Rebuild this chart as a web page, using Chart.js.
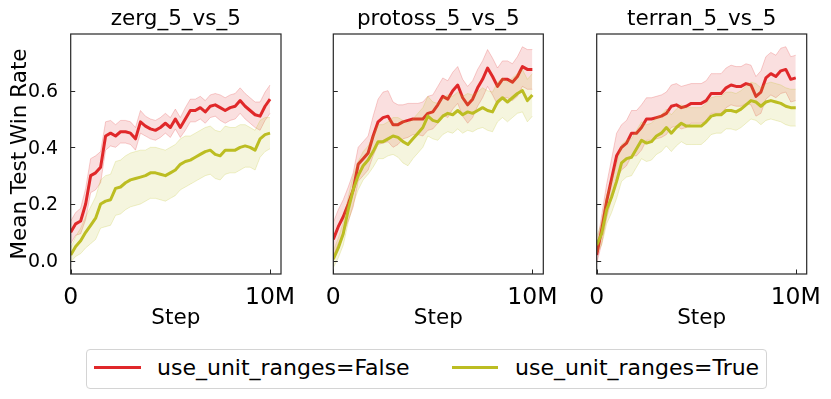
<!DOCTYPE html>
<html>
<head>
<meta charset="utf-8">
<script src="https://cdn.jsdelivr.net/npm/chart.js@4.4.0/dist/chart.umd.min.js"></script>
<style>
body{margin:0;background:#fff;font-family:'DejaVu Sans',sans-serif}
#wrap{position:relative;width:831px;height:399px;overflow:hidden;background:#fff}
#wrap canvas{position:absolute;left:0;top:0}
#legend{position:absolute;left:86px;top:349px;width:679px;height:38px;border:1px solid #d4d4d4;border-radius:4px}
.sw{position:absolute;top:16px;height:3px}
.txt{position:absolute;top:-1px;height:38px;line-height:38px;font-size:22px;color:#000;white-space:nowrap}
</style>
</head>
<body>
<div id="wrap">
  <canvas id="c1" width="831" height="340"></canvas>
  <canvas id="c2" width="831" height="340"></canvas>
  <canvas id="c3" width="831" height="340"></canvas>
  <div id="legend">
    <div class="sw" style="left:7px;width:47px;background:#e0282a"></div>
    <div class="txt" style="left:70px">use_unit_ranges=False</div>
    <div class="sw" style="left:365px;width:46px;background:#bcbd22"></div>
    <div class="txt" style="left:428px">use_unit_ranges=True</div>
  </div>
</div>
<script>
// x positions, millions of steps
const steps=[0,0.25,0.5,0.75,1,1.25,1.5,1.75,2,2.25,2.5,2.75,3,3.25,3.5,3.75,4,4.25,4.5,4.75,5,5.25,5.5,5.75,6,6.25,6.5,6.75,7,7.25,7.5,7.75,8,8.25,8.5,8.75,9,9.25,9.5,9.75,10];
const xTicks=[0,10];
const xTickLabels=['0','10M'];
const yTicks=[0,0.2,0.4,0.6];
const titles=['zerg_5_vs_5','protoss_5_vs_5','terran_5_vs_5'];

// mean win rate and spread, use_unit_ranges=False (red) / True (olive)
const zergFalse=[0.10,0.13,0.14,0.20,0.30,0.31,0.33,0.44,0.45,0.44,0.455,0.455,0.45,0.43,0.49,0.475,0.465,0.46,0.47,0.485,0.47,0.50,0.47,0.50,0.53,0.53,0.54,0.525,0.545,0.55,0.54,0.53,0.54,0.545,0.565,0.545,0.53,0.515,0.51,0.545,0.57];
const zergFalseSd=[0.04,0.04,0.045,0.055,0.06,0.06,0.055,0.05,0.045,0.04,0.04,0.04,0.04,0.04,0.04,0.035,0.035,0.035,0.035,0.035,0.035,0.035,0.035,0.04,0.04,0.04,0.04,0.04,0.04,0.04,0.045,0.045,0.045,0.045,0.045,0.045,0.045,0.045,0.05,0.05,0.05];
const zergTrue=[0.02,0.05,0.07,0.10,0.125,0.15,0.20,0.21,0.215,0.255,0.26,0.275,0.285,0.29,0.295,0.30,0.31,0.31,0.305,0.30,0.31,0.32,0.34,0.35,0.355,0.365,0.375,0.385,0.39,0.375,0.37,0.39,0.39,0.39,0.40,0.405,0.40,0.39,0.43,0.445,0.45];
const zergTrueSd=[0.025,0.035,0.045,0.055,0.065,0.075,0.085,0.09,0.09,0.095,0.095,0.095,0.095,0.095,0.095,0.09,0.09,0.09,0.09,0.09,0.09,0.09,0.09,0.09,0.085,0.085,0.085,0.085,0.085,0.085,0.085,0.085,0.08,0.08,0.08,0.075,0.07,0.07,0.065,0.06,0.055];

const protossFalse=[0.075,0.12,0.155,0.20,0.25,0.34,0.36,0.38,0.44,0.49,0.505,0.51,0.48,0.48,0.49,0.495,0.50,0.50,0.50,0.52,0.525,0.55,0.58,0.57,0.60,0.62,0.575,0.55,0.57,0.61,0.64,0.68,0.65,0.615,0.64,0.64,0.63,0.65,0.685,0.675,0.675];
const protossFalseSd=[0.06,0.06,0.06,0.06,0.06,0.06,0.06,0.06,0.07,0.08,0.09,0.09,0.08,0.07,0.06,0.06,0.055,0.055,0.06,0.06,0.06,0.065,0.065,0.065,0.065,0.065,0.065,0.065,0.065,0.065,0.065,0.065,0.065,0.065,0.065,0.065,0.065,0.07,0.07,0.07,0.07];
const protossTrue=[0.005,0.045,0.095,0.18,0.25,0.30,0.335,0.355,0.385,0.42,0.42,0.43,0.44,0.435,0.42,0.41,0.43,0.45,0.47,0.51,0.495,0.49,0.51,0.52,0.515,0.53,0.515,0.525,0.52,0.53,0.54,0.53,0.525,0.56,0.575,0.56,0.575,0.59,0.60,0.565,0.585];
const protossTrueSd=[0.03,0.035,0.04,0.045,0.05,0.05,0.05,0.05,0.055,0.06,0.06,0.06,0.065,0.07,0.075,0.075,0.07,0.07,0.07,0.07,0.065,0.065,0.065,0.065,0.065,0.065,0.065,0.065,0.065,0.065,0.07,0.07,0.07,0.07,0.07,0.07,0.07,0.07,0.075,0.075,0.075];

const terranFalse=[0.02,0.11,0.21,0.29,0.37,0.40,0.415,0.45,0.45,0.47,0.50,0.50,0.505,0.51,0.52,0.545,0.55,0.54,0.545,0.555,0.555,0.555,0.565,0.59,0.59,0.59,0.61,0.62,0.615,0.615,0.625,0.62,0.58,0.595,0.645,0.66,0.65,0.67,0.675,0.64,0.645];
const terranFalseSd=[0.03,0.05,0.06,0.07,0.08,0.08,0.08,0.08,0.08,0.08,0.075,0.075,0.075,0.075,0.075,0.075,0.075,0.075,0.075,0.07,0.07,0.07,0.07,0.07,0.07,0.07,0.07,0.07,0.07,0.07,0.07,0.07,0.07,0.075,0.075,0.075,0.075,0.08,0.08,0.08,0.08];
const terranTrue=[0.055,0.095,0.18,0.225,0.28,0.345,0.36,0.365,0.395,0.425,0.415,0.42,0.44,0.45,0.47,0.45,0.47,0.485,0.475,0.475,0.475,0.475,0.49,0.51,0.515,0.515,0.53,0.53,0.525,0.535,0.55,0.565,0.56,0.545,0.56,0.565,0.56,0.555,0.545,0.54,0.54];
const terranTrueSd=[0.03,0.04,0.05,0.055,0.06,0.065,0.065,0.065,0.065,0.065,0.065,0.065,0.065,0.065,0.065,0.065,0.065,0.065,0.065,0.065,0.065,0.065,0.065,0.065,0.065,0.065,0.065,0.065,0.065,0.065,0.065,0.065,0.065,0.065,0.065,0.065,0.065,0.065,0.065,0.065,0.065];

const RED='#e0282a', RED_BAND='rgba(224,40,42,0.15)', RED_EDGE='rgba(224,40,42,0.22)';
const OLIVE='#bcbd22', OLIVE_BAND='rgba(188,189,34,0.15)', OLIVE_EDGE='rgba(188,189,34,0.22)';
const FONT='DejaVu Sans';

Chart.defaults.font.family=FONT;

function pts(vals){ return vals.map((v,i)=>({x:steps[i],y:v})); }
function band(mean,sd,sign){ return mean.map((v,i)=>({x:steps[i],y:v+sign*sd[i]})); }

// box round the axes + inward tick marks (matplotlib style)
const frame={id:'frame',afterDatasetsDraw(chart){
  const {ctx,chartArea:a,scales:{x,y}}=chart;
  ctx.save();
  ctx.strokeStyle='#262626'; ctx.lineWidth=1.2;
  ctx.strokeRect(a.left,a.top,a.right-a.left,a.bottom-a.top);
  ctx.lineWidth=1; ctx.beginPath();
  for(const v of yTicks){ const p=Math.round(y.getPixelForValue(v))+0.5; ctx.moveTo(a.left,p); ctx.lineTo(a.left+4.5,p); }
  for(const v of xTicks){ const p=Math.round(x.getPixelForValue(v))+0.5; ctx.moveTo(p,a.bottom); ctx.lineTo(p,a.bottom-4.5); }
  ctx.stroke(); ctx.restore();
}};

function makeChart(id,title,rm,rs,om,os,padL,padR,showY){
  const line=(data,color,w,extra)=>Object.assign({data,borderColor:color,borderWidth:w,pointRadius:0,tension:0,fill:false,borderJoinStyle:'round'},extra);
  return new Chart(document.getElementById(id),{
    type:'line',
    data:{datasets:[
      line(band(rm,rs,1),RED_EDGE,1,{order:6}),
      line(band(rm,rs,-1),RED_EDGE,1,{order:5,fill:'-1',backgroundColor:RED_BAND}),
      line(pts(rm),RED,3,{order:4}),
      line(band(om,os,1),OLIVE_EDGE,1,{order:3}),
      line(band(om,os,-1),OLIVE_EDGE,1,{order:2,fill:'-1',backgroundColor:OLIVE_BAND}),
      line(pts(om),OLIVE,3,{order:1})
    ]},
    options:{
      responsive:false, animation:false, devicePixelRatio:1,
      layout:{padding:{left:padL,right:padR,top:0,bottom:0}},
      plugins:{
        legend:{display:false}, tooltip:{enabled:false},
        title:{display:true,text:title,fullSize:false,color:'#000',font:{family:FONT,size:21.5,weight:'normal'},padding:{top:6.4,bottom:1.8}}
      },
      scales:{
        x:{type:'linear',min:0,max:10.55,grid:{display:false},border:{display:false},
          afterBuildTicks:s=>{ s.ticks=xTicks.map(v=>({value:v})); },
          ticks:{color:'#000',font:{size:23.5},padding:1.8,maxRotation:0,autoSkip:false,callback:(v,i)=>xTickLabels[i]},
          title:{display:true,text:'Step',color:'#000',font:{size:21.5},padding:{top:0,bottom:8.2}},
          afterFit:s=>{ s.height=66; }},
        y:{min:-0.047,max:0.8,grid:{display:false},border:{display:false},
          afterBuildTicks:s=>{ s.ticks=yTicks.map(v=>({value:v})); },
          ticks:{display:showY,color:'#000',font:{size:19},padding:4.5,labelOffset:1.5,callback:v=>v.toFixed(1)},
          title:{display:showY,text:'Mean Test Win Rate',color:'#000',font:{size:21.5},padding:{top:7.1,bottom:0}},
          afterFit:s=>{ s.width=showY?70.7:0; }}
      }
    },
    plugins:[frame]
  });
}

makeChart('c1',titles[0],zergFalse,zergFalseSd,zergTrue,zergTrueSd,0,550,true);
makeChart('c2',titles[1],protossFalse,protossFalseSd,protossTrue,protossTrueSd,333.3,287.7,false);
makeChart('c3',titles[2],terranFalse,terranFalseSd,terranTrue,terranTrueSd,596.7,24.3,false);
</script>
</body>
</html>
